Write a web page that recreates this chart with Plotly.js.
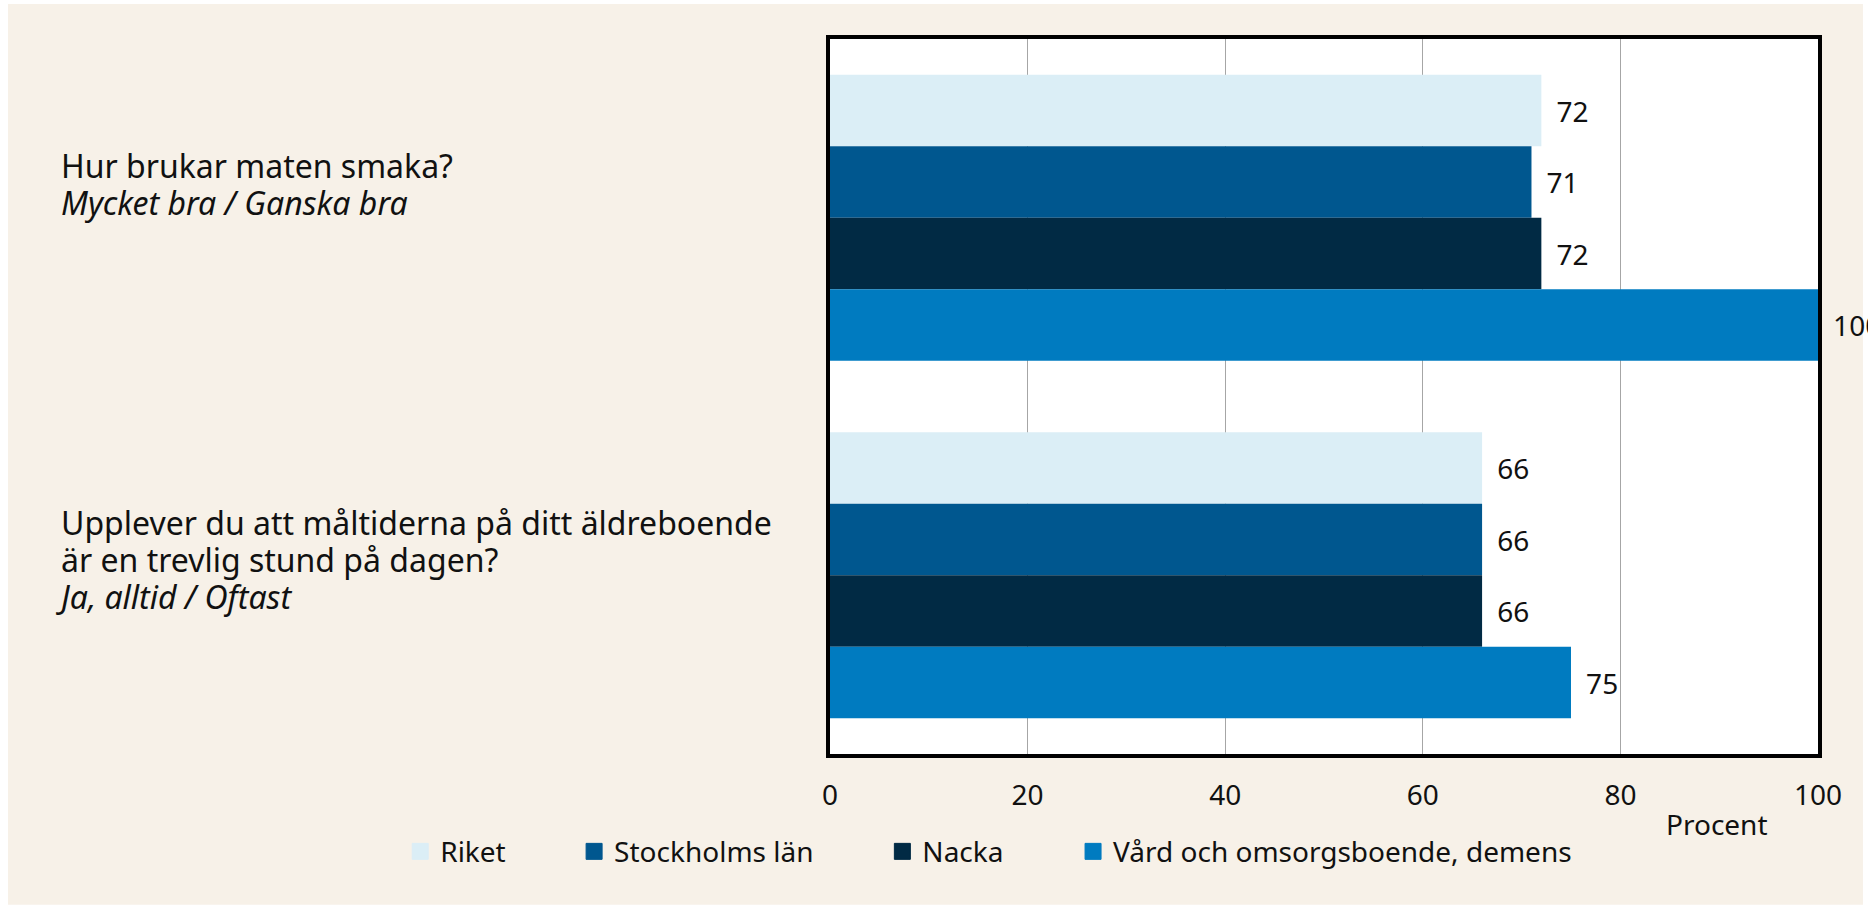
<!DOCTYPE html>
<html>
<head>
<meta charset="utf-8">
<script src="https://cdn.plot.ly/plotly-3.0.1.min.js"></script>
<style>
html,body{margin:0;padding:0;background:#ffffff;}
#chart{width:1868px;height:908px;}
</style>
</head>
<body>
<div id="chart"></div>
<script>
// ---- data ----
const categories = [
  'Hur brukar maten smaka?',
  'Upplever du att måltiderna på ditt äldreboende<br>är en trevlig stund på dagen?'
];
const answerLabels = ['Mycket bra / Ganska bra', 'Ja, alltid / Oftast'];
const seriesNames = ['Riket', 'Stockholms län', 'Nacka', 'Vård och omsorgsboende, demens'];
const riket = [72, 66];
const stockholm = [71, 66];
const nacka = [72, 66];
const vard = [100, 75];
const xTicks = [0, 20, 40, 60, 80, 100];
const xTitle = 'Procent';

// ---- styles ----
const colors = ['#dbeef6', '#00578f', '#012a44', '#007bc0'];
const seriesValues = [riket, stockholm, nacka, vard];
const FONT = 'Noto Sans, Open Sans, sans-serif';
const legendIds = ['legend', 'legend2', 'legend3', 'legend4'];
const legendX = [-0.435, -0.259, 0.053, 0.246];
const labelXShift = [0, -5];

const traces = [];
seriesValues.forEach((vals, i) => {
  traces.push({
    type: 'bar',
    orientation: 'h',
    name: seriesNames[i],
    y: categories,
    x: vals,
    marker: {color: colors[i], line: {width: 0}},
    text: vals.map(v => String(v)),
    texttemplate: '\u2004\u200a%{text}',
    textposition: 'outside',
    textfont: {family: FONT, size: 28, color: '#111111'},
    cliponaxis: false,
    showlegend: false,
    hoverinfo: 'x+name'
  });
});
// legend entries
seriesNames.forEach((n, i) => {
  traces.push({
    type: 'scatter',
    mode: 'markers',
    name: n,
    x: [null],
    y: [null],
    marker: {symbol: 'square', size: 16, color: colors[i], line: {width: 1, color: colors[i]}},
    legend: legendIds[i],
    showlegend: true,
    hoverinfo: 'skip'
  });
});

const annotations = categories.map((c, i) => ({
  xref: 'paper', yref: 'y',
  x: -0.78, y: c,
  xanchor: 'left', yanchor: 'top',
  yshift: 76,
  xshift: labelXShift[i],
  align: 'left',
  showarrow: false,
  text: '<span style="font-size:32px">' + c.split('<br>').join('</span><br><span style="font-size:32px">') +
        '</span><br><span style="font-size:32px"><i>' + answerLabels[i] + '</i></span>',
  font: {family: FONT, size: 28.5, color: '#111111'}
}));
annotations.push({
  xref: 'paper', yref: 'paper',
  x: 0.8974, y: -0.098,
  xanchor: 'center', yanchor: 'middle',
  showarrow: false,
  text: xTitle,
  font: {family: FONT, size: 28, color: '#111111'}
});

const legendBase = {
  orientation: 'h',
  xanchor: 'left', yanchor: 'middle',
  y: -0.1366,
  bgcolor: 'rgba(0,0,0,0)',
  font: {family: FONT, size: 28, color: '#111111'},
  itemclick: false, itemdoubleclick: false
};

const layout = {
  width: 1868, height: 908,
  margin: {l: 830, r: 50, t: 39, b: 154},
  paper_bgcolor: '#ffffff',
  plot_bgcolor: 'rgba(0,0,0,0)',
  font: {family: FONT, size: 28, color: '#111111'},
  barmode: 'group',
  bargap: 0.2,
  bargroupgap: 0,
  shapes: [
    {type: 'rect', xref: 'paper', yref: 'paper', x0: -0.832, x1: 1.0455, y0: -0.211, y1: 1.049,
     fillcolor: '#f7f1e8', line: {width: 0}, layer: 'below'},
    {type: 'rect', xref: 'paper', yref: 'paper', x0: 0, x1: 1, y0: 0, y1: 1,
     fillcolor: '#ffffff', line: {width: 0}, layer: 'below'}
  ],
  xaxis: {
    range: [0, 100],
    tickvals: xTicks,
    ticktext: xTicks.map(String),
    showgrid: true,
    gridcolor: '#a6a6a6',
    gridwidth: 1,
    zeroline: false,
    showline: true,
    linecolor: '#000000',
    linewidth: 4,
    mirror: true,
    ticks: '',
    ticklabelstandoff: 13,
    tickfont: {family: FONT, size: 28, color: '#111111'},
    fixedrange: true
  },
  yaxis: {
    autorange: 'reversed',
    showticklabels: false,
    showgrid: false,
    zeroline: false,
    showline: true,
    linecolor: '#000000',
    linewidth: 4,
    mirror: true,
    ticks: '',
    fixedrange: true
  },
  annotations: annotations,
  legend: Object.assign({}, legendBase, {x: legendX[0]}),
  legend2: Object.assign({}, legendBase, {x: legendX[1]}),
  legend3: Object.assign({}, legendBase, {x: legendX[2]}),
  legend4: Object.assign({}, legendBase, {x: legendX[3]})
};

Plotly.newPlot('chart', traces, layout, {displayModeBar: false, staticPlot: true});
</script>
</body>
</html>
